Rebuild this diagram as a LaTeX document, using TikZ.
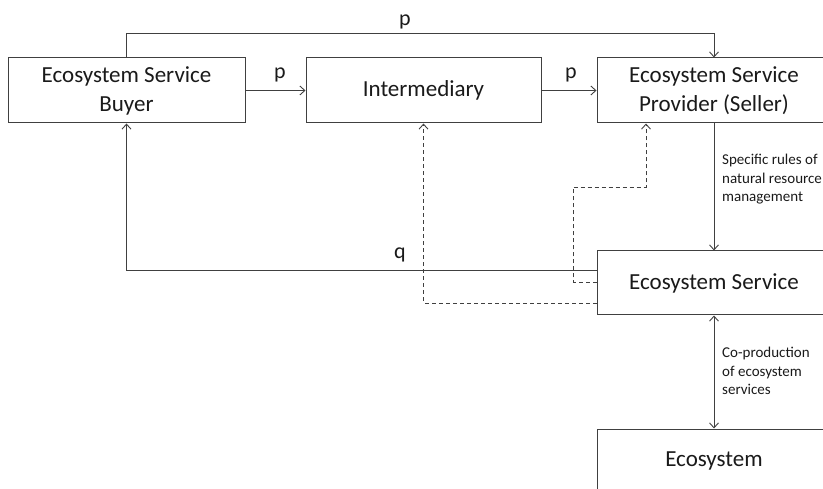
\documentclass[tikz,border=0pt]{standalone}
\usepackage{fontspec}
\setmainfont{Carlito}
\usetikzlibrary{arrows.meta}
\definecolor{ln}{HTML}{404040}
\definecolor{tx}{HTML}{1A1A1A}
\begin{document}
\begin{tikzpicture}[x=1pt,y=-1pt,
  box/.style={draw=ln,line width=1pt,fill=white,minimum height=65pt,text=tx,
    align=center,font=\fontsize{23}{29}\selectfont,inner sep=0pt},
  arr/.style={draw=ln,line width=0.9pt,-{Straight Barb[length=5pt,width=9pt]}},
  lab/.style={text=tx,font=\fontsize{22}{26}\selectfont,inner sep=0pt},
  small/.style={text=tx,font=\fontsize{15}{18.5}\selectfont,align=left,inner sep=0pt,anchor=north west}]
\useasboundingbox (0,0) rectangle (823,489);
\node[box,minimum width=237pt] (buyer) at (126.5,90.5) {Ecosystem Service\\Buyer};
\node[box,minimum width=235pt] (inter) at (423.5,90.5) {Intermediary};
\node[box,minimum width=234pt] (prov) at (714,90.5) {Ecosystem Service\\Provider (Seller)};
\node[box,minimum width=234pt,minimum height=64pt] (es) at (714,283) {Ecosystem Service};
\node[box,minimum width=234pt,minimum height=64pt] (eco) at (714,461) {Ecosystem};
% top p
\draw[arr] (buyer.north) -- ++(0,-24) -| (prov.north);
\node[lab] (p1) at (405,22) {p};
\draw[arr] (buyer.east) -- (inter.west);
\node[lab] (p2) at (280,75) {p};
\draw[arr] (inter.east) -- (prov.west);
\node[lab] (p3) at (571,75) {p};
% q
\draw[arr] (es.west |- 0,270) -| (buyer.south);
\node[lab] (q) at (400,255) {q};
% rules
\draw[arr] (prov.south) -- (es.north);
\node[small] (rules) at (722,154) {Specific rules of\\natural resource\\management};
\draw[draw=ln,line width=0.9pt,{Straight Barb[length=5pt,width=9pt]}-{Straight Barb[length=5pt,width=9pt]}] (es.south) -- (eco.north);
\node[small] (coprod) at (722,347) {Co-production\\of ecosystem\\services};
% dashed
\draw[arr,dash pattern=on 4pt off 3pt] (es.west |- 0,303) -| (inter.south);
\coordinate (pt) at ([xshift=-68pt]prov.south);
\draw[arr,dash pattern=on 4pt off 3pt] (es.west |- 0,282) -- (573,282) -- (573,187) -| (pt);
\end{tikzpicture}
\end{document}
